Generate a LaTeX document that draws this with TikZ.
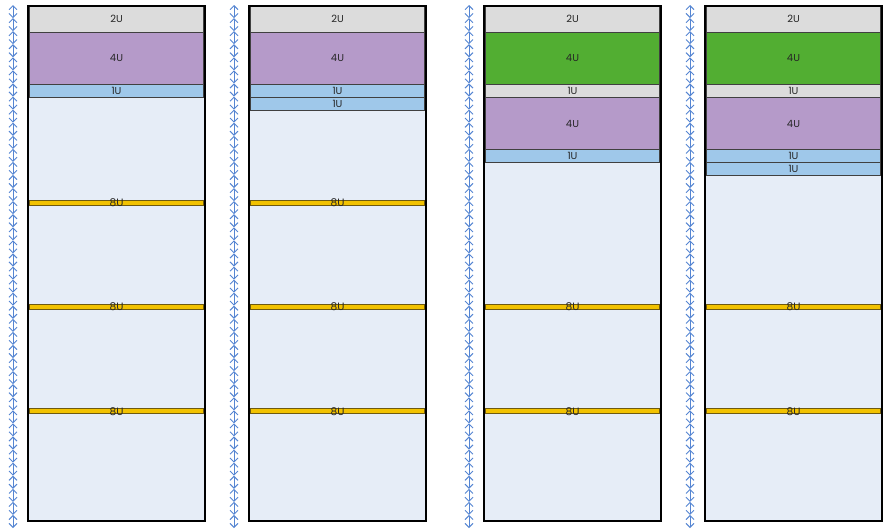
\documentclass[tikz,border=0pt]{standalone}
\usepackage{fontspec}
\setmainfont{Poppins}
\usepackage{tikz}
\usetikzlibrary{arrows.meta,positioning}
\definecolor{rkgray}{HTML}{DCDCDC}
\definecolor{rkpurple}{HTML}{B59AC9}
\definecolor{rkgreen}{HTML}{52AE32}
\definecolor{rkblue}{HTML}{9FC8EA}
\definecolor{rkbody}{HTML}{E6EDF7}
\definecolor{rkgold}{HTML}{F2C200}
\definecolor{rkgoldedge}{HTML}{6E5A10}
\definecolor{rkruler}{HTML}{5585D2}
\tikzset{
  rack_body/.style={
    fill=rkbody, draw=black, line width=1.9pt,
    minimum width=132.75pt, minimum height=386.25pt,
    inner sep=0pt, outer sep=0pt
  },
  rack_frame/.style={draw=black, line width=1.9pt},
  u_box/.style={
    draw=black!75, line width=0.7pt,
    minimum width=130.5pt, inner sep=0pt, outer sep=0pt,
    text=black!85, font=\fontsize{7.5}{8}\selectfont
  },
  u_one/.style={u_box, minimum height=9.8pt},
  u_two/.style={u_box, minimum height=19.6pt},
  u_four/.style={u_box, minimum height=39.2pt},
  sep_bar/.style={
    draw=rkgoldedge, line width=0.6pt, fill=rkgold,
    minimum width=130.5pt, minimum height=3.6pt, inner sep=0pt
  },
  u_lbl/.style={inner sep=0pt, text=black!85, font=\fontsize{8}{9}\selectfont},
  ruler_seg/.style={
    rkruler, line width=0.7pt,
    {Straight Barb[length=3pt,width=6pt]}-{Straight Barb[length=3pt,width=6pt]}
  },
}

\begin{document}
\begin{tikzpicture}[x=0.75pt, y=-0.75pt]
\useasboundingbox (0,0) rectangle (885,529);

% Unit rulers
\foreach \rx in {13,234,469,690}
  \foreach \k in {0,...,39}
    \draw[ruler_seg] (\rx,{5+13.075*\k}) -- (\rx,{5+13.075*(\k+1)});

% Rack 1
\node[rack_body] (r1) at (116.5,263.5) {};
\node[u_two,  fill=rkgray,   below=0pt of r1.north] (r1a) {2U};
\node[u_four, fill=rkpurple, below=0pt of r1a]      (r1b) {4U};
\node[u_one,  fill=rkblue,   below=0pt of r1b]      (r1c) {1U};
\node[sep_bar] (r1s1) at (116.5,202.5) {};
\node[sep_bar] (r1s2) at (116.5,306.7) {};
\node[sep_bar] (r1s3) at (116.5,411.2) {};
\node[u_lbl] (r1l1) at (r1s1) {8U};
\node[u_lbl] (r1l2) at (r1s2) {8U};
\node[u_lbl] (r1l3) at (r1s3) {8U};

% Rack 2
\node[rack_body] (r2) at (337.5,263.5) {};
\node[u_two,  fill=rkgray,   below=0pt of r2.north] (r2a) {2U};
\node[u_four, fill=rkpurple, below=0pt of r2a]      (r2b) {4U};
\node[u_one,  fill=rkblue,   below=0pt of r2b]      (r2c) {1U};
\node[u_one,  fill=rkblue,   below=0pt of r2c]      (r2d) {1U};
\node[sep_bar] (r2s1) at (337.5,202.5) {};
\node[sep_bar] (r2s2) at (337.5,306.7) {};
\node[sep_bar] (r2s3) at (337.5,411.2) {};
\node[u_lbl] (r2l1) at (r2s1) {8U};
\node[u_lbl] (r2l2) at (r2s2) {8U};
\node[u_lbl] (r2l3) at (r2s3) {8U};

% Rack 3
\node[rack_body] (r3) at (572.5,263.5) {};
\node[u_two,  fill=rkgray,   below=0pt of r3.north] (r3a) {2U};
\node[u_four, fill=rkgreen,  below=0pt of r3a]      (r3b) {4U};
\node[u_one,  fill=rkgray,   below=0pt of r3b]      (r3c) {1U};
\node[u_four, fill=rkpurple, below=0pt of r3c]      (r3d) {4U};
\node[u_one,  fill=rkblue,   below=0pt of r3d]      (r3e) {1U};
\node[sep_bar] (r3s1) at (572.5,306.7) {};
\node[sep_bar] (r3s2) at (572.5,411.2) {};
\node[u_lbl] (r3l1) at (r3s1) {8U};
\node[u_lbl] (r3l2) at (r3s2) {8U};

% Rack 4
\node[rack_body] (r4) at (793.5,263.5) {};
\node[u_two,  fill=rkgray,   below=0pt of r4.north] (r4a) {2U};
\node[u_four, fill=rkgreen,  below=0pt of r4a]      (r4b) {4U};
\node[u_one,  fill=rkgray,   below=0pt of r4b]      (r4c) {1U};
\node[u_four, fill=rkpurple, below=0pt of r4c]      (r4d) {4U};
\node[u_one,  fill=rkblue,   below=0pt of r4d]      (r4e) {1U};
\node[u_one,  fill=rkblue,   below=0pt of r4e]      (r4f) {1U};
\node[sep_bar] (r4s1) at (793.5,306.7) {};
\node[sep_bar] (r4s2) at (793.5,411.2) {};
\node[u_lbl] (r4l1) at (r4s1) {8U};
\node[u_lbl] (r4l2) at (r4s2) {8U};

% Frames on top
\foreach \r in {r1,r2,r3,r4}
  \draw[rack_frame] (\r.north west) rectangle (\r.south east);

\end{tikzpicture}
\end{document}
